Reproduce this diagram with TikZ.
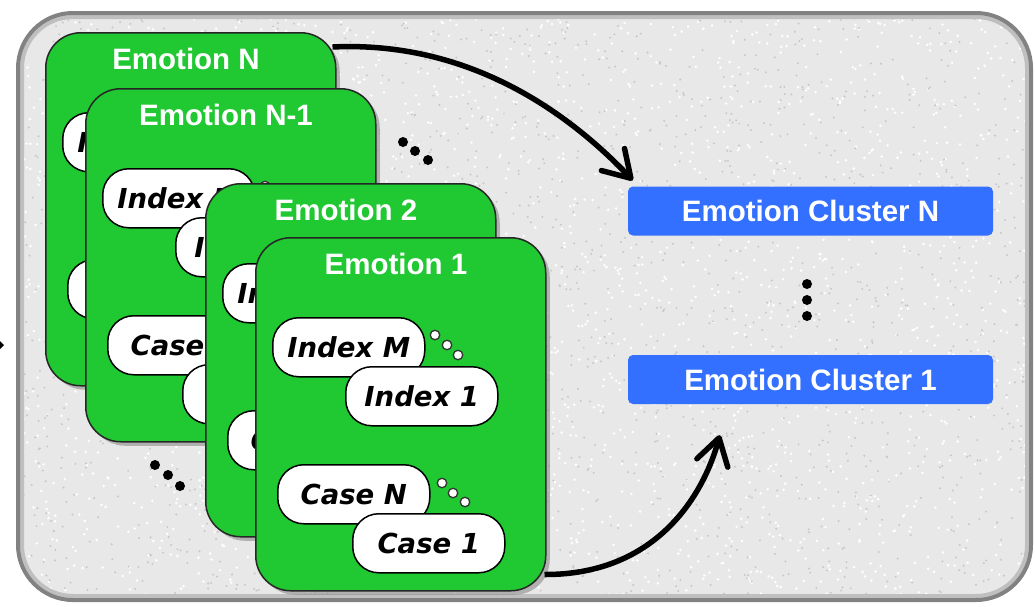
\documentclass[tikz,border=0pt]{standalone}
\usepackage{fontspec}
\newfontfamily\titlefont{Liberation Sans}
\newfontfamily\pillfont{DejaVu Sans}[ItalicFont={DejaVu Sans Oblique},BoldItalicFont={DejaVu Sans Bold Oblique}]
\usetikzlibrary{arrows.meta,shadows,calc}
\definecolor{cardgreen}{RGB}{32,200,50}
\definecolor{clusterblue}{RGB}{51,112,255}
\definecolor{framefill}{RGB}{232,232,232}
\definecolor{framegray}{RGB}{130,130,130}
\tikzset{
 card/.style={draw=black!85, line width=1.5pt, fill=cardgreen, rounded corners=35pt, minimum width=290pt, minimum height=353pt, anchor=north west, inner sep=0pt, drop shadow={shadow xshift=4pt, shadow yshift=-4pt, fill=black!45, opacity=0.6}},
 cardtitle/.style={text=white, font=\titlefont\bfseries\fontsize{29.5}{32}\selectfont, inner sep=0pt},
 pill/.style={draw=black, line width=1.5pt, fill=white, rounded corners=26pt, minimum width=152pt, minimum height=59pt, anchor=north west, inner sep=0pt, font=\pillfont\bfseries\itshape\fontsize{27.5}{30}\selectfont},
 ring/.style={circle, draw=black!80, line width=1.3pt, fill=white, minimum size=9.5pt, inner sep=0pt},
 blackdot/.style={circle, fill=black, minimum size=10pt, inner sep=0pt},
 cluster/.style={fill=clusterblue, rounded corners=5pt, minimum width=365pt, minimum height=49pt, text=white, font=\titlefont\bfseries\fontsize{29.5}{32}\selectfont, inner sep=0pt},
 bigarrow/.style={line width=5.5pt, -{Straight Barb[length=26pt,width=32pt,round]}},
}
% card with the pills that stay at least partly visible
\newcommand\EmoCardBack[4]{%
 \begin{scope}[shift={(#2,#3)}]
  \node[card] (#1) at (0,0) {};
  \node[cardtitle] (#1-t) at (141,27) {#4};
  \node[pill] (#1-im) at (17,80) {Index M};
  \node[pill] (#1-cn) at (22,227) {Case N};
 \end{scope}}
\newcommand\EmoCard[4]{%
 \begin{scope}[shift={(#2,#3)}]
  \node[card] (#1) at (0,0) {};
  \node[cardtitle] (#1-t) at (141,27) {#4};
  \node[pill] (#1-im) at (17,80) {Index M};
  \node[ring] (#1-ia) at (180,98) {};
  \node[ring] (#1-ib) at (192,108) {};
  \node[ring] (#1-ic) at (203,118) {};
  \node[pill] (#1-i1) at (90,129) {Index 1};
  \node[pill] (#1-cn) at (22,227) {Case N};
  \node[ring] (#1-ca) at (187,246) {};
  \node[ring] (#1-cb) at (198,256) {};
  \node[ring] (#1-cc) at (210,265) {};
  \node[pill] (#1-c1) at (97,276) {Case 1};
 \end{scope}}
\begin{document}
\begin{tikzpicture}[x=1pt,y=-1pt]
\useasboundingbox (0,0) rectangle (1035,606);
% frame
\fill[framefill, rounded corners=55pt] (18,13) rectangle (1031,600);
\begin{scope}
 \clip[rounded corners=55pt] (18,13) rectangle (1031,600);
 \pgfmathsetseed{7}
 \foreach \i in {1,...,2500}{\fill[white] (rnd*1035,rnd*606) circle (1.4pt);}
 \foreach \i in {1,...,2000}{\fill[black!22] (rnd*1035,rnd*606) circle (1.1pt);}
\end{scope}
\draw[black!25, line width=4pt, rounded corners=51pt] (22,17) rectangle (1027,596);
\draw[framegray, line width=4pt, rounded corners=55pt] (18,13) rectangle (1031,600);
% stray mark at left edge
\fill (0,341) -- (4,345) -- (0,349) -- cycle;
% cards
\EmoCardBack{cardN}{45}{32}{Emotion N}
\EmoCard{cardNa}{85}{88}{Emotion N-1}
\EmoCardBack{cardB}{205}{183}{Emotion 2}
\EmoCard{cardA}{255}{237}{Emotion 1}
% ellipsis dots
\node[blackdot] (d1) at (403,142) {};
\node[blackdot] (d2) at (415,151) {};
\node[blackdot] (d3) at (428,160) {};
\node[blackdot] (e1) at (155,465) {};
\node[blackdot] (e2) at (168,475) {};
\node[blackdot] (e3) at (180,486) {};
% clusters
\node[cluster] (clN) at (810.5,211) {Emotion Cluster N};
\node[cluster] (cl1) at (810.5,379.5) {Emotion Cluster 1};
\node[blackdot] (v1) at (807,284) {};
\node[blackdot] (v2) at (807,300) {};
\node[blackdot] (v3) at (807,316) {};
% arrows
\coordinate (a1s) at ($(cardN.north east)+(-4,15)$);
\coordinate (a1e) at ($(clN.north west)+(5,-6)$);
\draw[bigarrow] (a1s) .. controls (480,40) and (580,125) .. (a1e);
\coordinate (a2s) at ($(cardA.south east)+(-2,-17)$);
\coordinate (a2e) at ($(cl1.south west)+(92,31)$);
\draw[bigarrow] (a2s) .. controls (660,575) and (705,490) .. (a2e);
\end{tikzpicture}
\end{document}
